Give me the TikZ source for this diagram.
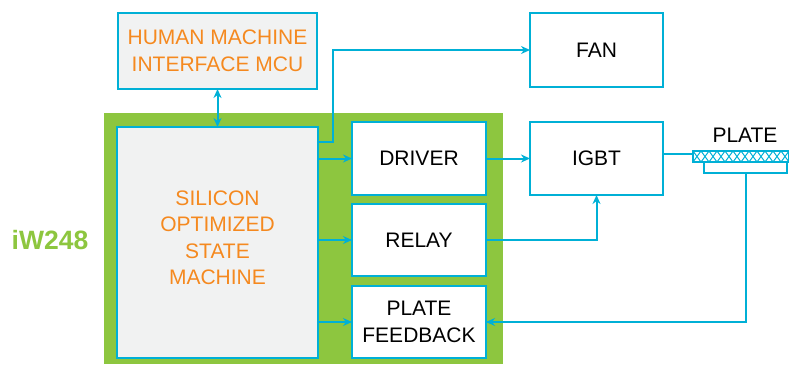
\documentclass[tikz,border=0pt]{standalone}
\usepackage{fontspec}
\setmainfont{Liberation Sans}
\usetikzlibrary{arrows.meta}
\definecolor{cy}{RGB}{0,176,214}
\definecolor{gr}{RGB}{141,198,63}
\definecolor{orng}{RGB}{245,137,31}
\definecolor{lgray}{RGB}{241,242,242}
\tikzset{
  blk/.style={draw=cy, line width=2.5pt, fill=white, inner sep=0pt, outer sep=0pt,
    align=center, font=\fontsize{21}{26.5}\selectfont},
  grayblk/.style={blk, fill=lgray, text=orng},
  conn/.style={draw=cy, line width=2pt},
  arr/.style={conn, -{Stealth[length=9pt,width=8pt]}},
  darr/.style={conn, {Stealth[length=9pt,width=8pt]}-{Stealth[length=9pt,width=8pt]}},
}
\begin{document}
\begin{tikzpicture}[x=1pt,y=-1pt]
\useasboundingbox (0,0) rectangle (789,365);
% green chip area
\fill[gr] (104,113) rectangle (503,364);
\node[font=\fontsize{26.5}{30}\selectfont\bfseries, text=gr] (chip) at (50,240) {iW248};
% boxes
\node[grayblk, minimum width=199pt, minimum height=76pt] (hmi) at (217.5,51) {HUMAN MACHINE\\INTERFACE MCU};
\node[grayblk, minimum width=201pt, minimum height=231pt] (sosm) at (217.5,242.5) {};
\node[text=orng, align=center, font=\fontsize{21}{26.5}\selectfont] (sosmtxt) at (217.5,238) {SILICON\\OPTIMIZED\\STATE\\MACHINE};
\node[blk, minimum width=133pt, minimum height=74pt] (fan) at (596.5,50) {FAN};
\node[blk, minimum width=133pt, minimum height=73pt] (igbt) at (596.5,158.5) {IGBT};
\node[blk, minimum width=134pt, minimum height=73pt] (driver) at (419,158.5) {DRIVER};
\node[blk, minimum width=134pt, minimum height=72pt] (relay) at (419,240) {RELAY};
\node[blk, minimum width=134pt, minimum height=72pt] (pf) at (419,322) {PLATE\\FEEDBACK};
% plate
\node[draw=cy, line width=1.5pt, inner sep=0pt, outer sep=0pt, minimum width=96pt, minimum height=11pt] (plate) at (741,156.5) {};
\begin{scope}
\clip (693,151) rectangle (789,162);
\foreach \i in {693,701,...,789} {
  \draw[cy, line width=1pt] (\i,151) -- (\i+8,162);
  \draw[cy, line width=1pt] (\i,162) -- (\i+8,151);
}
\end{scope}
\node[draw=cy, line width=1.5pt, inner sep=0pt, outer sep=0pt, minimum width=83pt, minimum height=11pt] (platebase) at (745.5,167.5) {};
\node[font=\fontsize{21}{25}\selectfont] (platelbl) at (745,135) {PLATE};
% connectors
\coordinate (fanturn) at (333,50);
\draw[darr] (hmi.south) -- (sosm.north);
\draw[arr] ([yshift=-15pt]sosm.north east) -| (fanturn) -- (fan.west);
\draw[arr] (sosm.east |- driver.west) -- (driver.west);
\draw[arr] (sosm.east |- relay.west) -- (relay.west);
\draw[arr] (sosm.east |- pf.west) -- (pf.west);
\draw[arr] (driver.east) -- (igbt.west);
\draw[arr] (relay.east) -| (igbt.south);
\draw[conn] ([yshift=3pt]igbt.east |- plate.west) -- ([yshift=3pt]plate.west);
\draw[arr] (platebase.south) |- (pf.east);
\end{tikzpicture}
\end{document}
